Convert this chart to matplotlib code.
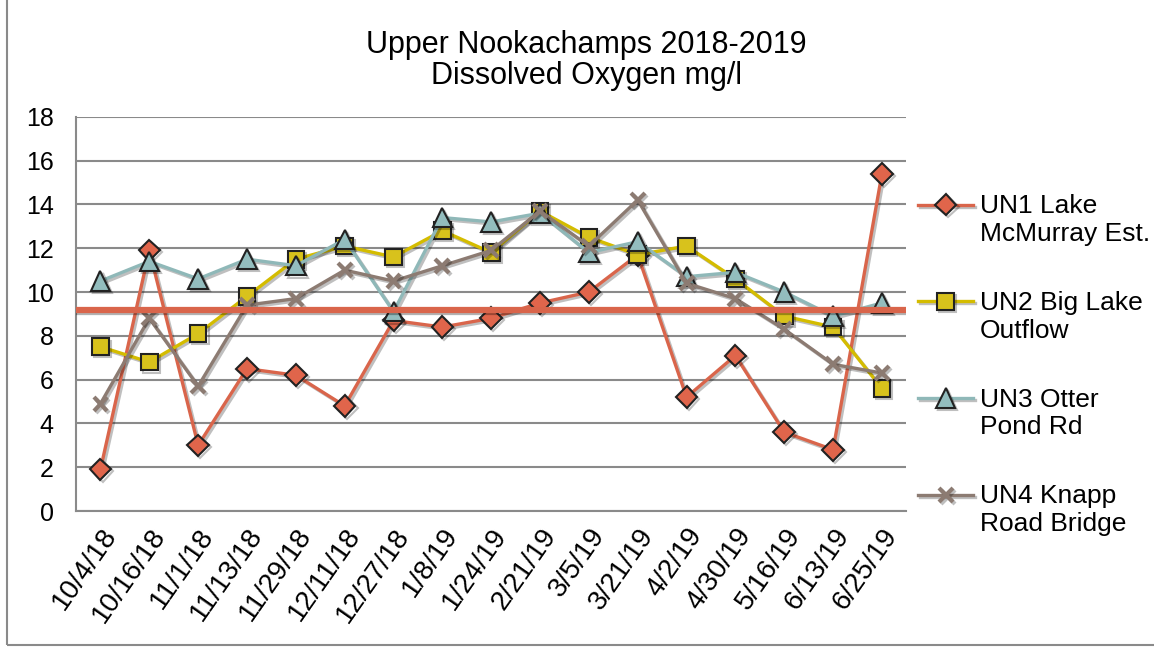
import matplotlib
matplotlib.use("Agg")
import matplotlib.pyplot as plt
from matplotlib.patches import Rectangle
from matplotlib.legend_handler import HandlerLine2D
import matplotlib.patheffects as pe
import matplotlib.transforms as mtransforms
import numpy as np

plt.rcParams['font.family'] = ['Liberation Sans', 'DejaVu Sans']

dates = ['10/4/18', '10/16/18', '11/1/18', '11/13/18', '11/29/18', '12/11/18',
         '12/27/18', '1/8/19', '1/24/19', '2/21/19', '3/5/19', '3/21/19',
         '4/2/19', '4/30/19', '5/16/19', '6/13/19', '6/25/19']

un1 = [1.9, 11.9, 3.0, 6.5, 6.2, 4.8, 8.7, 8.4, 8.8, 9.5, 10.0, 11.7, 5.2, 7.1, 3.6, 2.8, 15.4]
un2 = [7.5, 6.8, 8.1, 9.8, 11.5, 12.1, 11.6, 12.8, 11.8, 13.7, 12.5, 11.7, 12.1, 10.6, 8.9, 8.4, 5.6]
un3 = [10.5, 11.4, 10.6, 11.5, 11.2, 12.4, 9.1, 13.4, 13.2, 13.6, 11.8, 12.3, 10.7, 10.9, 10.0, 8.9, 9.5]
un4 = [4.9, 8.8, 5.7, 9.4, 9.7, 11.0, 10.5, 11.2, 11.9, 13.7, 12.1, 14.2, 10.4, 9.7, 8.3, 6.7, 6.3]

labels = ['UN1 Lake\nMcMurray Est.', 'UN2 Big Lake\nOutflow', 'UN3 Otter\nPond Rd', 'UN4 Knapp\nRoad Bridge']
standard = 9.2


class FirstLineHandler(HandlerLine2D):
    # put the legend marker next to the first line of a two-line label
    def create_artists(self, legend, orig_handle, xdescent, ydescent, width, height, fontsize, trans):
        artists = super().create_artists(legend, orig_handle, xdescent, ydescent,
                                         width, height, fontsize, trans)
        shift = mtransforms.Affine2D().translate(0, 0.6 * fontsize)
        for a in artists:
            a.set_transform(shift + trans)
        return artists


fig = plt.figure(figsize=(11.54, 6.49), dpi=100)
ax = fig.add_axes([0.0659, 0.2126, 0.7195, 0.6074])

x = np.arange(len(dates))
shadow = [pe.SimpleLineShadow(offset=(1.5, -1.5), alpha=0.25), pe.Normal()]

ax.plot(x, un1, color='#d9654b', lw=2.4, marker='D', ms=11, mfc='#e0654b', mec='#222222', mew=1.5,
        label=labels[0], zorder=3, path_effects=shadow)
ax.plot(x, un2, color='#d4bc00', lw=2.4, marker='s', ms=12, mfc='#d8c21c', mec='#222222', mew=1.5,
        label=labels[1], zorder=4, path_effects=shadow)
ax.plot(x, un3, color='#8fb8b8', lw=2.4, marker='^', ms=14, mfc='#93bdbe', mec='#222222', mew=1.5,
        label=labels[2], zorder=5, path_effects=shadow)
ax.plot(x, un4, color='#8c7b72', lw=2.4, marker='x', ms=10, mec='#8c7b72', mew=3,
        label=labels[3], zorder=6, path_effects=shadow)

ax.axhline(standard, color='#d9654b', lw=4.5, zorder=7,
           path_effects=[pe.SimpleLineShadow(offset=(0, -2), alpha=0.3), pe.Normal()])

ax.set_xlim(-0.5, len(dates) - 0.5)
ax.set_ylim(0, 18)
ax.set_yticks(range(0, 19, 2))
ax.yaxis.grid(True, color='#8a8a8a', lw=1.5)
ax.set_axisbelow(True)
ax.set_xticks(x)
ax.set_xticklabels(dates, rotation=55, ha='right', va='top', rotation_mode='anchor')
ax.tick_params(axis='both', length=0, labelsize=18)
ax.tick_params(axis='x', labelsize=20, pad=9)
ax.tick_params(axis='y', pad=16)
for side in ['top', 'right']:
    ax.spines[side].set_visible(False)
for side in ['left', 'bottom']:
    ax.spines[side].set_color('#8a8a8a')
    ax.spines[side].set_linewidth(1.5)

fig.text(0.508, 0.907, 'Upper Nookachamps 2018-2019\nDissolved Oxygen mg/l',
         ha='center', va='center', fontsize=22, linespacing=1.05)

ax.legend(loc='center left', bbox_to_anchor=(1.014, 0.37), frameon=False, fontsize=19,
          handlelength=2.1, handletextpad=0.25, labelspacing=1.7, borderpad=0, borderaxespad=0,
          handler_map={matplotlib.lines.Line2D: FirstLineHandler()})

fig.patches.append(Rectangle((7 / 1154, 4 / 649), 1.2, 1.2, transform=fig.transFigure,
                             fill=False, edgecolor='#8a8a8a', lw=1.5))

fig.savefig('out.png', dpi=100)
